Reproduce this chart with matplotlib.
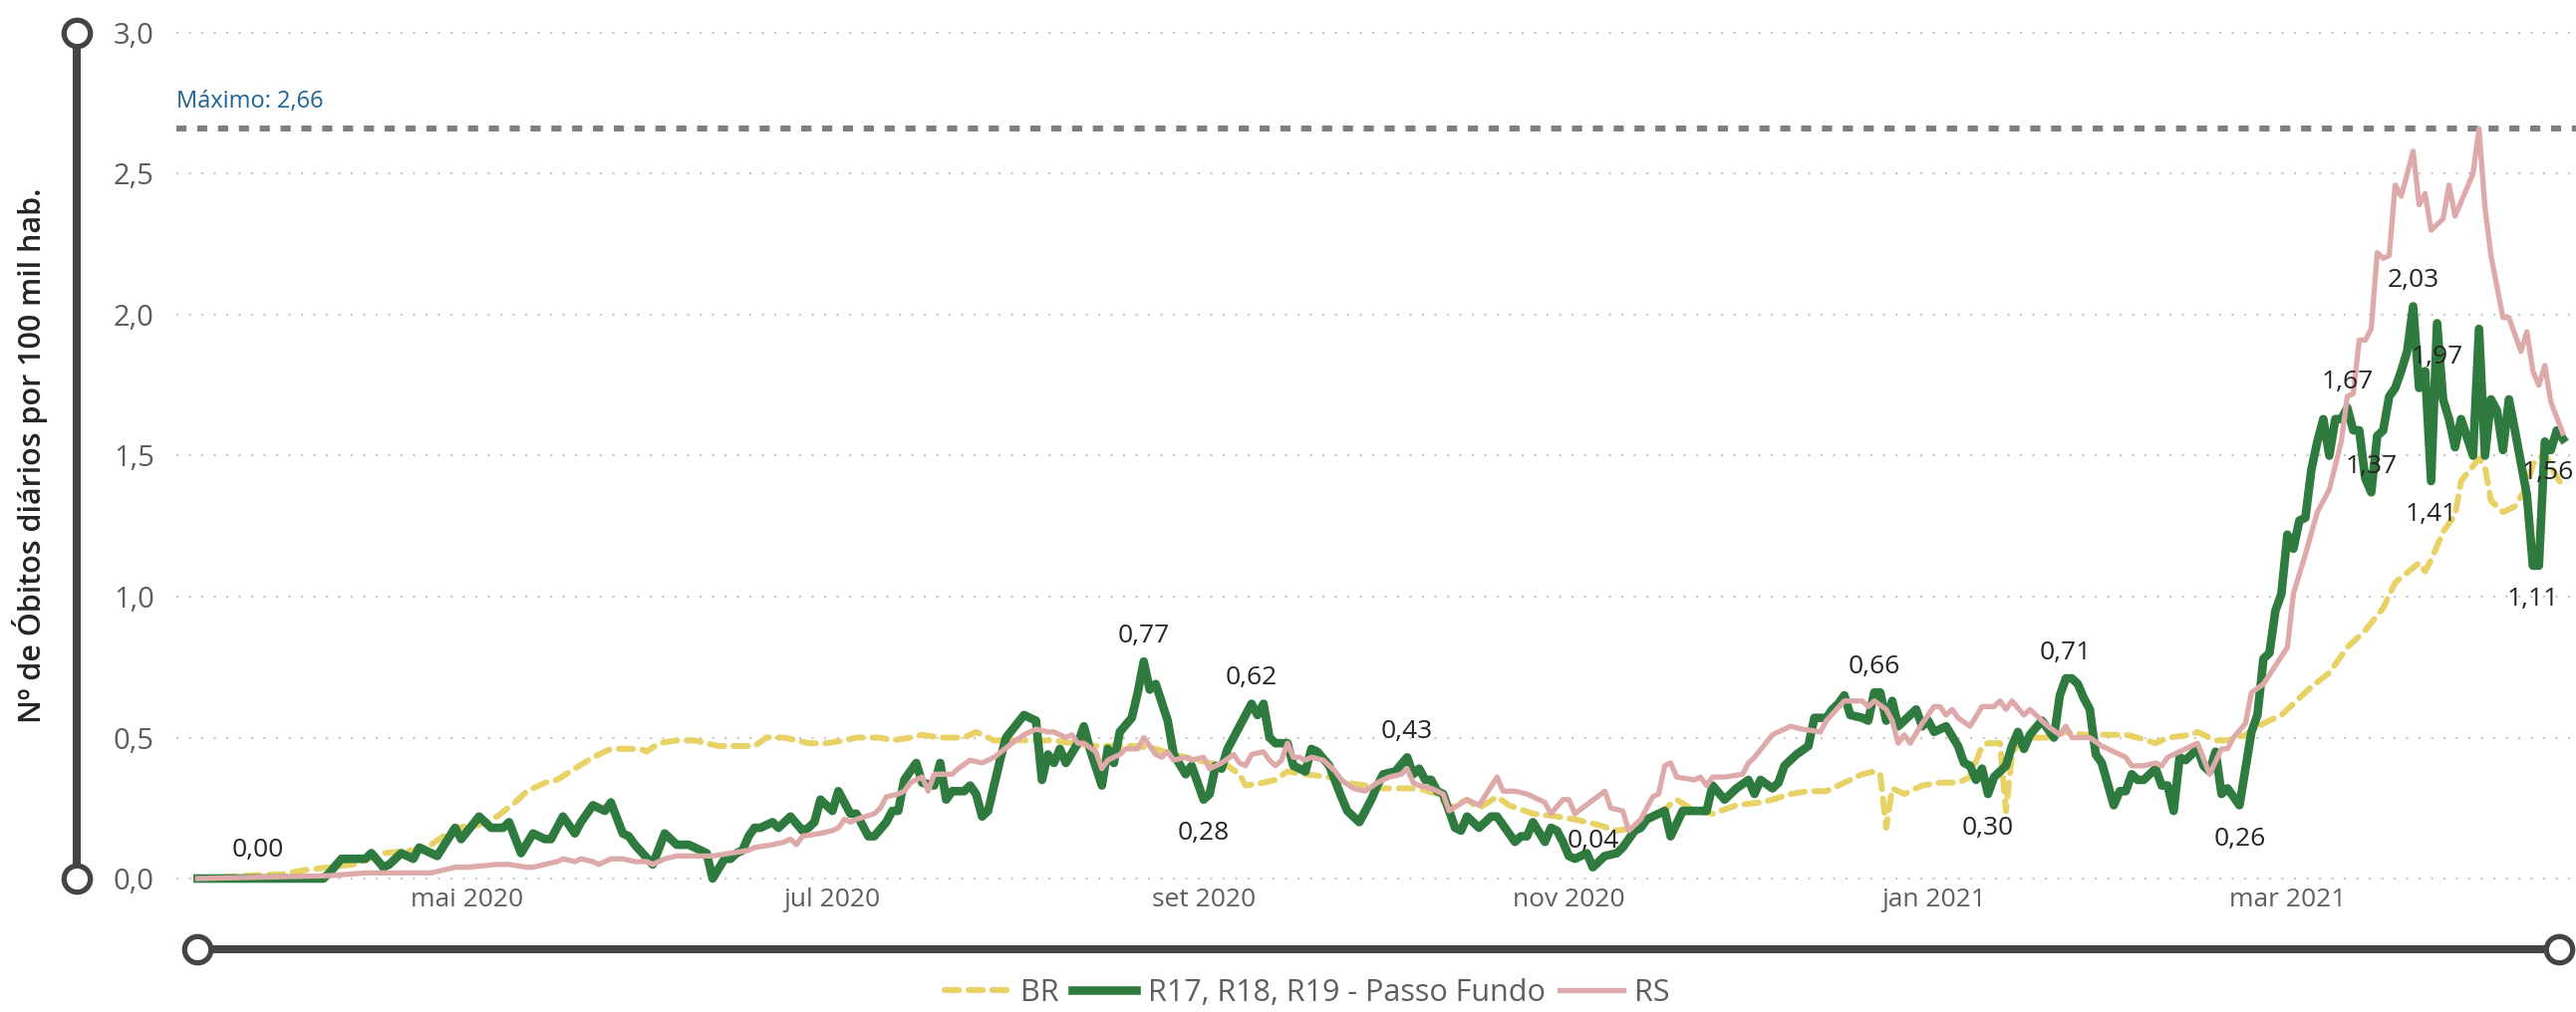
import matplotlib
matplotlib.use("Agg")
import matplotlib.pyplot as plt
import matplotlib.dates as mdates
from matplotlib.lines import Line2D
from matplotlib.ticker import FuncFormatter
import numpy as np
import pandas as pd

plt.rcParams['font.family'] = ['Open Sans', 'DejaVu Sans']

# dias contados a partir de 17/03/2020
inicio = pd.Timestamp('2020-03-17')

# BR
br_dias = [0, 8, 14, 18, 22, 26, 31, 36, 39, 41, 43, 47, 50, 53, 55, 58, 60, 63, 66, 69, 71, 74, 75, 77, 80, 83,
           87, 89, 93, 95, 98, 102, 105, 108, 110, 114, 116, 119, 121, 124, 128, 130, 133, 137, 141, 143, 146, 150,
           153, 157, 160, 163, 167, 169, 172, 174, 175, 178, 180, 182, 185, 189, 192, 195, 198, 201, 204, 207, 209,
           212, 214, 217, 219, 223, 227, 230, 234, 237, 240, 244, 247, 250, 253, 257, 261, 263, 266, 269, 272, 275,
           278, 280, 281, 282, 283, 285, 288, 291, 294, 296, 298, 299, 301, 302, 303, 304, 306, 309, 312, 315, 318,
           322, 324, 327, 329, 333, 334, 337, 339, 342, 345, 348, 351, 353, 356, 359, 362, 365, 367, 371, 372, 373,
           375, 377, 378, 381, 382, 383, 385, 387, 389, 390, 392, 393, 395]
br_vals = [0.00, 0.01, 0.015, 0.03, 0.04, 0.05, 0.09, 0.10, 0.12, 0.15, 0.18, 0.19, 0.22, 0.27, 0.31, 0.34, 0.35,
           0.39, 0.43, 0.46, 0.46, 0.46, 0.45, 0.48, 0.49, 0.49,
           0.47, 0.47, 0.47, 0.50, 0.50, 0.48, 0.48, 0.49, 0.50, 0.50, 0.49, 0.50, 0.51, 0.50, 0.50, 0.52, 0.49,
           0.49, 0.49, 0.49, 0.48, 0.47, 0.47, 0.47, 0.46, 0.44, 0.42, 0.41, 0.40, 0.37, 0.33, 0.34, 0.35, 0.38,
           0.37, 0.36, 0.34, 0.33, 0.32, 0.32, 0.32, 0.30, 0.25, 0.28, 0.25, 0.29, 0.26, 0.23, 0.22, 0.21,
           0.19, 0.17, 0.18, 0.23, 0.28, 0.24, 0.23, 0.26, 0.27, 0.28, 0.30, 0.31, 0.31, 0.34, 0.37, 0.38, 0.37,
           0.18, 0.32, 0.30, 0.33, 0.34, 0.34, 0.36, 0.47, 0.48, 0.48, 0.24, 0.44, 0.48, 0.50, 0.50, 0.52, 0.51,
           0.51, 0.51, 0.50, 0.48, 0.50, 0.51, 0.52, 0.49, 0.49, 0.51, 0.55, 0.58, 0.64, 0.68, 0.73, 0.82, 0.88,
           0.96, 1.05, 1.12, 1.09, 1.13, 1.23, 1.29, 1.41,
           1.49, 1.46, 1.34, 1.30, 1.32, 1.39, 1.47, 1.51, 1.46, 1.39]

# R17, R18, R19 - Passo Fundo
pf_dias = [0, 10, 21, 22, 24, 28, 29, 31, 32, 34, 36, 37, 38, 40, 43, 44, 47, 49, 51, 52, 54, 56, 58, 59, 61, 63,
           64, 66, 68, 69, 71, 72, 73, 76, 78, 80, 82,
           85, 86, 88, 89, 90, 91, 92, 93, 94, 96, 97, 99, 101, 102, 103, 104, 106, 107, 109, 110, 112, 113, 115,
           116, 117, 118, 120, 121, 123, 124, 125, 126, 128, 129, 130, 131, 132, 133, 134, 135, 138, 140, 141, 142,
           143, 144, 145, 147, 148, 149, 151, 152, 153, 154, 156, 157, 158, 159, 160, 162, 163, 165, 166, 168, 169,
           170, 171, 172, 174, 176, 177, 178, 179, 180, 182, 183, 185, 186, 187, 189, 191, 192, 194, 196, 197, 198,
           200, 202, 203, 204, 205, 206, 207, 208, 209, 210, 211, 212, 213, 214, 216, 217, 220, 221, 222, 223, 225,
           226, 227, 228, 229, 230,
           232, 233, 235, 237, 238, 240, 241, 242, 243, 245, 246, 248, 252, 253, 255, 257, 259, 260, 261, 263, 264,
           265, 267, 269, 270, 272, 273, 274, 275, 276, 278, 279, 280, 281, 282, 283, 284, 286, 287, 288, 289, 290,
           292, 294, 295, 296, 297, 298, 299, 300, 302, 303, 304, 305, 306, 308, 310, 311, 312, 313, 314, 315, 316,
           317, 318, 320, 321, 322, 323, 324, 325, 327, 328, 329, 330, 331, 332, 334, 335, 336, 337, 338, 339, 341,
           343, 344, 345, 346, 347, 348, 349, 350, 351, 352, 353, 354, 355, 356, 357, 358, 359, 360, 361, 362, 363,
           364, 365, 366, 367, 368, 369, 370, 371, 372, 373, 374, 375, 376, 377, 378,
           380, 381, 382, 383, 384, 385, 386, 387, 389, 390, 391, 392, 393, 394, 395]
pf_vals = [0.00, 0.00, 0.00, 0.02, 0.07, 0.07, 0.09, 0.04, 0.05, 0.09, 0.07, 0.11, 0.10, 0.08, 0.18, 0.14, 0.22,
           0.18, 0.18, 0.20, 0.09, 0.16, 0.14, 0.14, 0.22, 0.16, 0.20, 0.26, 0.24, 0.27, 0.16, 0.15, 0.12, 0.05,
           0.16, 0.12, 0.12,
           0.09, 0.00, 0.07, 0.07, 0.09, 0.10, 0.15, 0.18, 0.18, 0.20, 0.18, 0.22, 0.17, 0.18, 0.20, 0.28, 0.24,
           0.31, 0.23, 0.23, 0.15, 0.15, 0.20, 0.24, 0.24, 0.35, 0.41, 0.34, 0.33, 0.41, 0.28, 0.31, 0.31, 0.33,
           0.30, 0.22, 0.24, 0.33, 0.42, 0.50, 0.58, 0.56, 0.35, 0.44, 0.41, 0.46, 0.41, 0.48, 0.54, 0.46, 0.33,
           0.46, 0.41, 0.52, 0.57, 0.66, 0.77, 0.67, 0.69, 0.56, 0.44, 0.37, 0.40, 0.28, 0.30, 0.40, 0.39, 0.46,
           0.54, 0.62, 0.58, 0.62, 0.50, 0.48, 0.48, 0.40, 0.38, 0.46, 0.45, 0.40, 0.29, 0.24, 0.20, 0.28, 0.33,
           0.37, 0.38, 0.43, 0.37, 0.39, 0.35, 0.35, 0.31, 0.30, 0.24, 0.18, 0.17, 0.22, 0.20, 0.18, 0.22, 0.22,
           0.13, 0.15, 0.15, 0.20, 0.13, 0.18, 0.17, 0.13, 0.08, 0.07,
           0.09, 0.04, 0.08, 0.09, 0.11, 0.17, 0.18, 0.21, 0.22, 0.24, 0.15, 0.24, 0.24, 0.33, 0.28, 0.32, 0.35,
           0.30, 0.35, 0.32, 0.34, 0.40, 0.44, 0.47, 0.57, 0.57, 0.60, 0.62, 0.65, 0.58, 0.57, 0.56, 0.66, 0.66,
           0.56, 0.63, 0.54, 0.58, 0.60, 0.54, 0.56, 0.52, 0.54, 0.47, 0.41, 0.40, 0.35, 0.39, 0.30, 0.36, 0.40,
           0.47, 0.52, 0.46, 0.51, 0.56, 0.50, 0.65, 0.71, 0.71, 0.69, 0.64, 0.60, 0.44, 0.41, 0.26, 0.31, 0.31,
           0.37, 0.35, 0.35, 0.39, 0.33, 0.33, 0.24, 0.43, 0.42, 0.46, 0.40, 0.38, 0.45, 0.30, 0.32, 0.26, 0.52,
           0.58, 0.78, 0.80, 0.95, 1.01, 1.22, 1.17, 1.27, 1.28, 1.45, 1.55, 1.63, 1.50, 1.63, 1.63, 1.67, 1.59,
           1.59, 1.42, 1.37, 1.57, 1.59, 1.71, 1.74, 1.80, 1.87, 2.03, 1.74, 1.80, 1.41, 1.97, 1.70, 1.63, 1.53,
           1.63,
           1.50, 1.95, 1.50, 1.70, 1.66, 1.52, 1.70, 1.59, 1.36, 1.11, 1.11, 1.55, 1.52, 1.59, 1.56]

# RS
rs_dias = [0, 22, 28, 36, 39, 43, 45, 50, 52, 55, 56, 58, 60, 61, 63, 64, 66, 67, 69, 71, 73, 75, 76, 78, 80, 83,
           86, 89, 92, 93, 96, 98, 99, 100, 101, 104, 106, 107, 108, 109, 110, 113, 114, 115, 117, 118, 119, 121,
           122, 123, 126, 127, 129, 131, 133, 136, 138, 140, 142, 143, 145, 146, 147, 148, 150, 151, 152, 153, 154,
           155, 157, 158, 159, 160, 161, 162, 163, 165, 166, 168, 169, 171, 173, 174, 175, 176, 178, 179, 180, 181,
           182, 183, 184, 185, 186, 188, 190, 191, 193, 195, 197, 199, 201, 202, 203, 204, 206, 208, 209, 212, 214,
           217, 218, 220, 222, 224, 225, 226, 228, 229, 230,
           235, 236, 238, 239, 241, 243, 244, 245, 246, 247, 250, 251, 252, 253, 255, 258, 259, 260, 263, 266, 268,
           271, 272, 275, 278, 279, 280, 282, 283, 284, 285, 286, 288, 290, 291, 292, 293, 294, 296, 298, 300, 301,
           302, 303, 305, 306, 307, 309, 311, 312, 313, 316, 318, 321, 322, 323, 325, 327, 328, 329, 332, 334, 336,
           338, 339, 340, 342, 343, 345, 349, 350, 352, 354, 356, 358, 359, 360, 361, 362, 363, 364, 365, 366, 367,
           368, 370, 371, 372, 373, 375, 376, 377,
           380, 381, 382, 383, 385, 386, 388, 389, 390, 391, 392, 393, 395]
rs_vals = [0.00, 0.01, 0.02, 0.02, 0.02, 0.04, 0.04, 0.05, 0.05, 0.04, 0.04, 0.05, 0.06, 0.07, 0.06, 0.07, 0.06,
           0.05, 0.07, 0.07, 0.06, 0.06, 0.05, 0.07, 0.08, 0.08,
           0.08, 0.09, 0.10, 0.11, 0.12, 0.13, 0.14, 0.12, 0.15, 0.16, 0.17, 0.18, 0.21, 0.20, 0.21, 0.23, 0.25,
           0.29, 0.30, 0.31, 0.34, 0.36, 0.31, 0.37, 0.37, 0.39, 0.42, 0.41, 0.43, 0.48, 0.51, 0.53, 0.52, 0.52,
           0.50, 0.51, 0.48, 0.48, 0.45, 0.39, 0.42, 0.43, 0.44, 0.46, 0.46, 0.50, 0.47, 0.44, 0.43, 0.45, 0.42,
           0.43, 0.42, 0.43, 0.39, 0.41, 0.44, 0.41, 0.40, 0.44, 0.45, 0.42, 0.40, 0.42, 0.48, 0.43, 0.43, 0.42,
           0.43, 0.42, 0.38, 0.35, 0.32, 0.31, 0.34, 0.36, 0.37, 0.39, 0.34, 0.33, 0.32, 0.30, 0.24, 0.28, 0.26,
           0.36, 0.31, 0.31, 0.30, 0.28, 0.27, 0.23, 0.28, 0.28, 0.23,
           0.31, 0.25, 0.24, 0.17, 0.21, 0.29, 0.30, 0.40, 0.41, 0.36, 0.35, 0.36, 0.33, 0.36, 0.36, 0.37, 0.41,
           0.43, 0.51, 0.54, 0.53, 0.52, 0.56, 0.63, 0.63, 0.61, 0.63, 0.60, 0.56, 0.48, 0.51, 0.48, 0.55, 0.61,
           0.61, 0.58, 0.60, 0.57, 0.54, 0.61, 0.61, 0.63, 0.60, 0.63, 0.58, 0.60, 0.58, 0.54, 0.51, 0.54, 0.50,
           0.50, 0.47, 0.44, 0.43, 0.40, 0.40, 0.41, 0.40, 0.43, 0.46, 0.48, 0.37, 0.46, 0.46, 0.50, 0.55, 0.66,
           0.69, 0.82, 1.01, 1.15, 1.30, 1.38, 1.55, 1.71, 1.72, 1.91, 1.91, 1.95, 2.22, 2.20, 2.21, 2.46, 2.42,
           2.58, 2.39, 2.43, 2.30, 2.34, 2.46, 2.35,
           2.50, 2.66, 2.38, 2.21, 1.99, 1.99, 1.87, 1.94, 1.80, 1.75, 1.82, 1.69, 1.58]

# rótulos de dados da série Passo Fundo
rot_dias = [10, 158, 168, 176, 202, 233, 280, 299, 312, 341, 359, 363, 370, 374, 373, 390, 395]
rot_pos = ['acima', 'acima', 'abaixo', 'acima', 'acima', 'acima', 'acima', 'abaixo', 'acima', 'abaixo',
           'acima', 'acima', 'acima', 'abaixo', 'abaixo', 'abaixo', 'abaixo']

maximo = 2.66
meses = ['jan', 'fev', 'mar', 'abr', 'mai', 'jun', 'jul', 'ago', 'set', 'out', 'nov', 'dez']


def datas(dias):
    return inicio + pd.to_timedelta(dias, unit='D')


W, H = 2585, 1016


def fx(px):
    return px / W


def fy(py):
    return 1 - py / H


fig = plt.figure(figsize=(W / 100, H / 100), dpi=100)
ax = fig.add_axes([fx(177), fy(890.5), (2585 - 177) / W, (890.5 - 24.5) / H])

cor_br = '#E8D266'
cor_pf = '#2F7A3F'
cor_rs = '#DDA9A9'

ax.plot(datas(br_dias), br_vals, color=cor_br, lw=4.3, ls=(0, (2.4, 1.6)), dash_capstyle='round', zorder=3)
ax.plot(datas(pf_dias), pf_vals, color=cor_pf, lw=6.2, solid_joinstyle='round', zorder=4)
ax.plot(datas(rs_dias), rs_vals, color=cor_rs, lw=3.8, solid_joinstyle='round', zorder=5)

# linha de máximo
ax.axhline(maximo, color='#7F7F7F', lw=4.3, ls=(0, (1.7, 1.8)), zorder=2)
ax.annotate('Máximo: ' + f'{maximo:.2f}'.replace('.', ','), xy=(0, maximo), xycoords=('axes fraction', 'data'),
            xytext=(0, 27), textcoords='offset pixels', ha='left', va='center', fontsize=17, color='#1F6391')

# rótulos
pf_map = dict(zip(pf_dias, pf_vals))
for d, pos in zip(rot_dias, rot_pos):
    v = pf_map[d]
    dy = 26 if pos == 'acima' else -34
    if v == 0:
        dy = 29
    dx = -15 if d == pf_dias[-1] else 0
    ax.annotate(f'{v:.2f}'.replace('.', ','), xy=(datas([d])[0], v), xytext=(dx, dy),
                textcoords='offset pixels', ha='center', va='center', fontsize=19, color='#252423', zorder=6)

ax.set_ylim(-0.03, 3.03)
ax.set_xlim(inicio + pd.Timedelta(days=-3.56), inicio + pd.Timedelta(days=397.2))
ax.set_yticks(np.arange(0, 3.01, 0.5))
ax.yaxis.set_major_formatter(FuncFormatter(lambda v, p: f'{v:.1f}'.replace('.', ',')))
ax.xaxis.set_major_locator(mdates.MonthLocator(bymonth=[1, 3, 5, 7, 9, 11]))
ax.xaxis.set_major_formatter(FuncFormatter(
    lambda v, p: f'{meses[mdates.num2date(v).month - 1]} {mdates.num2date(v).year}'))
ax.tick_params(axis='y', length=0, pad=16, labelsize=21, labelcolor='#605E5C')
ax.tick_params(axis='x', length=0, pad=0, labelsize=19, labelcolor='#605E5C')
ax.grid(axis='y', color='#C8C6C4', ls=(0, (1, 5)), lw=1.5)
ax.grid(axis='x', visible=False)
for s in ax.spines.values():
    s.set_visible(False)
ax.set_facecolor('none')

# controles deslizantes
cinza = '#454442'
fig.add_artist(Line2D([fx(77), fx(77)], [fy(33), fy(882)], color=cinza, lw=5.8, solid_capstyle='butt'))
fig.add_artist(Line2D([fx(198), fx(2568)], [fy(953), fy(953)], color=cinza, lw=5.8, solid_capstyle='butt'))
for (px, py) in [(77, 33), (77, 882), (198, 953), (2568, 953)]:
    fig.add_artist(Line2D([fx(px)], [fy(py)], marker='o', ms=19, mew=3.8, mec=cinza, mfc='white'))

fig.text(fx(30), fy(457), 'Nº de Óbitos diários por 100 mil hab.', rotation=90, ha='center', va='center',
         fontsize=22, fontweight='semibold', color='#252423')

handles = [Line2D([], [], color=cor_br, lw=4.3, ls=(0, (2.4, 1.6)), dash_capstyle='round'),
           Line2D([], [], color=cor_pf, lw=6.2),
           Line2D([], [], color=cor_rs, lw=3.8)]
fig.legend(handles, ['BR', 'R17, R18, R19 - Passo Fundo', 'RS'], loc='center',
           bbox_to_anchor=(fx(1312), fy(997)), ncol=3, frameon=False, fontsize=22,
           handlelength=2.1, handletextpad=0.38, columnspacing=0.45, labelcolor='#605E5C',
           borderpad=0, borderaxespad=0)

fig.savefig('out.png', dpi=100, facecolor='white')
